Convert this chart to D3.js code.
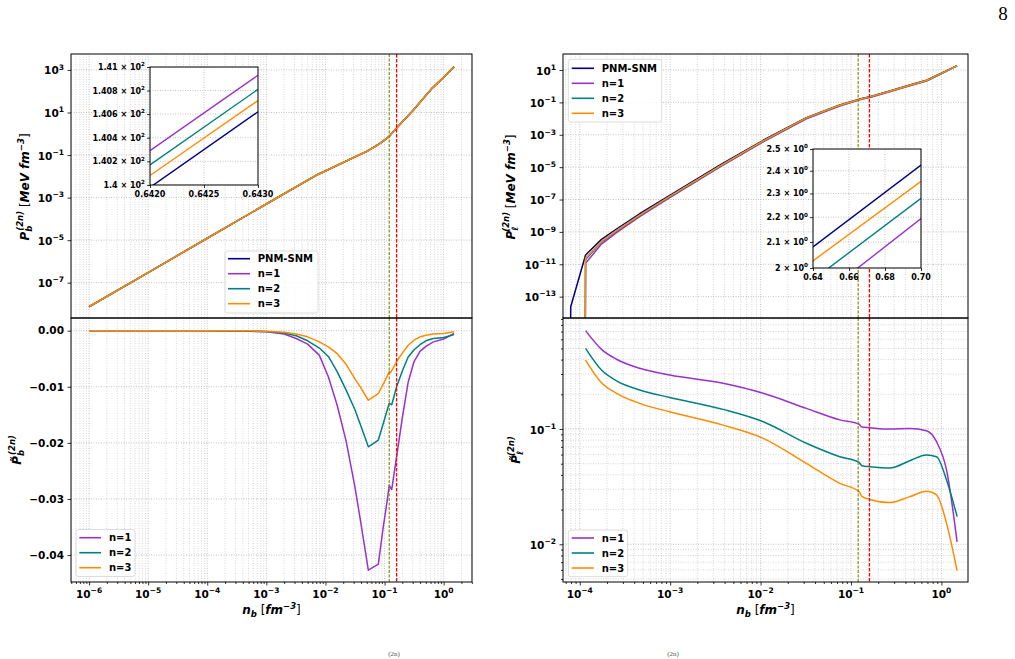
<!DOCTYPE html>
<html><head><meta charset="utf-8">
<script src="https://cdn.jsdelivr.net/npm/d3@7/dist/d3.min.js"></script>
<style>body{margin:0;background:#fff}svg{display:block}text{font-family:"DejaVu Sans",sans-serif}</style>
</head><body><svg id="c" width="1015" height="659"></svg>
<script>
// ---------------- DATA ----------------
const seriesNames = ['PNM-SNM','n=1','n=2','n=3'];
const vlineVals = [0.12, 0.16];            // olive (crust-core), red (saturation)

// top-left: P_b^(2n)
const nbB   = [1e-6,1e-5,1e-4,1e-3,7.1e-3,0.01,0.03,0.05,0.08,0.12,0.16,0.3,0.5,0.6425,1.0,1.5];
const pbPNM = [7.4e-9,3.0e-7,1.23e-5,5.0e-4,1.15e-2,1.78e-2,7.6e-2,0.145,0.316,0.741,1.86,12.0,63,140.3,447,1430];
const pbN1  = [7.4e-9,3.0e-7,1.23e-5,5.0e-4,1.16e-2,1.80e-2,7.8e-2,0.150,0.327,0.760,1.89,12.1,63.1,140.6,448,1431];
const pbN2  = [7.4e-9,3.0e-7,1.23e-5,5.0e-4,1.155e-2,1.79e-2,7.7e-2,0.148,0.322,0.750,1.88,12.05,63.05,140.5,447.5,1431];
const pbN3  = [7.4e-9,3.0e-7,1.23e-5,5.0e-4,1.152e-2,1.785e-2,7.65e-2,0.147,0.320,0.747,1.87,12.02,63.02,140.4,447.3,1430];

// bottom-left: relative P_b
const nbD  = [1e-6,1e-5,1e-4,5e-4,1e-3,2e-3,3.2e-3,5e-3,7.9e-3,0.0112,0.0158,0.0224,0.0316,0.0398,0.0532,0.0785,0.0955,0.112,0.1205,0.126,0.1324,0.16,0.2,0.251,0.316,0.398,0.501,0.67,1.0,1.5];
const dbN1 = [0,0,0,-0.0001,-0.0002,-0.0006,-0.0014,-0.0024,-0.0044,-0.0082,-0.0133,-0.0197,-0.0279,-0.0343,-0.0427,-0.0416,-0.0349,-0.0300,-0.0275,-0.0280,-0.0283,-0.0225,-0.0155,-0.0092,-0.0055,-0.0037,-0.0028,-0.0020,-0.0015,-0.0005];
const dbN2 = [0,0,0,-0.00005,-0.00015,-0.0004,-0.0009,-0.0018,-0.0031,-0.0046,-0.0073,-0.0106,-0.0141,-0.0170,-0.0207,-0.0195,-0.0165,-0.0140,-0.0129,-0.0131,-0.0132,-0.0100,-0.0072,-0.0047,-0.0034,-0.0025,-0.0018,-0.0014,-0.0012,-0.0007];
const dbN3 = [0,0,0,-0.00003,-0.0001,-0.0003,-0.0006,-0.0011,-0.0020,-0.0029,-0.0041,-0.0060,-0.0086,-0.0102,-0.0124,-0.0112,-0.0095,-0.0080,-0.0073,-0.0075,-0.0071,-0.0055,-0.0040,-0.0026,-0.0017,-0.0011,-0.0008,-0.0006,-0.0005,-0.0002];

// top-right: P_l^(2n)
const nbLP  = [7.9e-5,7.95e-5,1.16e-4,1.74e-4,2.55e-4,4.6e-4,9.9e-4,3.85e-3,0.0107,0.0321,0.0752,0.123,0.132,0.162,0.268,0.447,0.683,0.883,1.14,1.49];
const plPNM = [1e-16,2.4e-14,3.7e-11,3.47e-10,1.51e-9,1.32e-8,1.82e-7,1.74e-5,4.57e-4,1.15e-2,6.84e-2,0.155,0.174,0.224,0.501,1.175,2.33,4.57,9.12,18.6];
const nbLn  = [1.15e-4,1.16e-4,1.74e-4,2.55e-4,4.6e-4,9.9e-4,3.85e-3,0.0107,0.0321,0.0752,0.123,0.132,0.162,0.268,0.447,0.683,0.883,1.14,1.49];
const plN1  = [1e-16,1.15e-11,1.78e-10,9.1e-10,8.7e-9,1.29e-7,1.32e-5,3.63e-4,9.8e-3,6.03e-2,0.138,0.155,0.200,0.447,1.05,2.09,4.17,8.71,18.6];
const plN2  = [1e-16,2.0e-11,2.34e-10,1.12e-9,1.02e-8,1.48e-7,1.48e-5,4.07e-4,1.07e-2,6.46e-2,0.148,0.166,0.214,0.479,1.12,2.19,4.27,8.71,18.2];
const plN3  = [1e-16,2.4e-11,2.57e-10,1.2e-9,1.1e-8,1.55e-7,1.55e-5,4.17e-4,1.1e-2,6.6e-2,0.151,0.170,0.219,0.490,1.15,2.24,4.47,8.91,18.6];

// bottom-right: relative P_l
const nbR  = [1.16e-4,1.74e-4,2.55e-4,4.6e-4,9.9e-4,3.85e-3,0.0107,0.0321,0.0752,0.123,0.132,0.162,0.268,0.447,0.683,0.883,1.14,1.49];
const dlN1 = [0.713,0.491,0.403,0.336,0.294,0.249,0.204,0.151,0.120,0.110,0.104,0.1026,0.100,0.101,0.0966,0.0776,0.044,0.0105];
const dlN2 = [0.501,0.325,0.262,0.218,0.188,0.148,0.1157,0.0752,0.0575,0.0514,0.048,0.0471,0.0459,0.0531,0.0595,0.0575,0.0361,0.0174];
const dlN3 = [0.396,0.252,0.204,0.167,0.141,0.108,0.083,0.0503,0.0338,0.0286,0.026,0.0245,0.0230,0.0259,0.0288,0.0268,0.0152,0.0059];

// insets
const inLx = [0.642,0.643];
const inLnavy = [139.98,140.62], inLn1 = [140.29,140.93], inLn2 = [140.17,140.81], inLn3 = [140.08,140.715];
const inLxTicks = [0.642,0.6425,0.643], inLxLabels = ['0.6420','0.6425','0.6430'];
const inLyTicks = [140,140.2,140.4,140.6,140.8,141], inLyMant = ['1.4','1.402','1.404','1.406','1.408','1.41'], inLyExp = '2';
const inRx = [0.64,0.70];
const inRnavy = [2.081,2.426], inRn1 = [1.873,2.194], inRn2 = [1.956,2.279], inRn3 = [2.027,2.353];
const inRxTicks = [0.64,0.66,0.68,0.70], inRxLabels = ['0.64','0.66','0.68','0.70'];
const inRyTicks = [2,2.1,2.2,2.3,2.4,2.5], inRyMant = ['2','2.1','2.2','2.3','2.4','2.5'], inRyExp = '0';

// tick values
const decL = [-6,-5,-4,-3,-2,-1,0], decR = [-4,-3,-2,-1,0];
const ytlExp = [3,1,-1,-3,-5,-7];
const ytrExp = [1,-1,-3,-5,-7,-9,-11,-13];
const yblTicks = [0,-0.01,-0.02,-0.03,-0.04], yblLabels = ['0.00','\u22120.01','\u22120.02','\u22120.03','\u22120.04'];
const ybrExp = [-1,-2];

// ---------------- LAYOUT ----------------
const C = {navy:'#000080', n1:'#9932CC', n2:'#008080', n3:'#FF8C00'};
const svg = d3.select('#c');
const L = {x0:71, x1:472}, R = {x0:563, x1:968};
const yT0 = 54, yM = 318, yB1 = 582;

const xL  = d3.scaleLog().domain([4.95e-7, 3.02]).range([L.x0, L.x1]);
const xR  = d3.scaleLog().domain([6.53e-5, 1.968]).range([R.x0, R.x1]);
const yTL = d3.scaleLog().domain([2.19e-9, 5623]).range([yM, yT0]);
const yBL = d3.scaleLinear().domain([-0.0448, 0.00226]).range([yB1, yM]);
const yTR = d3.scaleLog().domain([4.8e-15, 97.7]).range([yM, yT0]);
const yBR = d3.scaleLog().domain([4.71e-3, 0.918]).range([yB1, yM]);

function minorVals(dom, d0, d1) {
  const out = [];
  for (let d = d0; d <= d1; d++) for (let k = 2; k <= 9; k++) {
    const v = k * Math.pow(10, d);
    if (v >= dom[0] && v <= dom[1]) out.push(v);
  }
  return out;
}
const p10 = e => Math.pow(10, e);

let clipN = 0;
function clip(x0, y0, x1, y1) {
  const id = 'cl' + (clipN++);
  svg.append('clipPath').attr('id', id).append('rect')
    .attr('x', x0).attr('y', y0).attr('width', x1 - x0).attr('height', y1 - y0);
  return `url(#${id})`;
}
function gridLine(g, x1, y1, x2, y2, major) {
  g.append('line').attr('x1', x1).attr('y1', y1).attr('x2', x2).attr('y2', y2)
    .attr('stroke', major ? '#b4b4b4' : '#cdcdcd').attr('stroke-width', 0.8)
    .attr('stroke-dasharray', '1,1.5');
}
function panel(x, y, x0, x1, y0, y1, gx, gxm, gy, gym) {
  const cp = clip(x0, y0, x1, y1);
  const g = svg.append('g').attr('clip-path', cp);
  gxm.forEach(v => gridLine(g, x(v), y0, x(v), y1, false));
  gym.forEach(v => gridLine(g, x0, y(v), x1, y(v), false));
  gx.forEach(v => gridLine(g, x(v), y0, x(v), y1, true));
  gy.forEach(v => gridLine(g, x0, y(v), x1, y(v), true));
  return svg.append('g').attr('clip-path', cp);
}
function series(g, xs, ys, x, y, color, curve, w) {
  g.append('path').datum(d3.zip(xs, ys))
    .attr('d', d3.line().x(d => x(d[0])).y(d => y(d[1])).curve(curve || d3.curveLinear))
    .attr('fill', 'none').attr('stroke', color).attr('stroke-width', w || 1.5)
    .attr('stroke-linejoin', 'round');
}
function vlines(g, x, y0, y1) {
  const xa = x(vlineVals[0]), xb = x(vlineVals[1]);
  g.append('line').attr('x1', xa).attr('x2', xa).attr('y1', y0).attr('y2', y1)
    .attr('stroke', '#808000').attr('stroke-width', 1.1).attr('stroke-dasharray', '3,1.5');
  g.append('line').attr('x1', xb).attr('x2', xb).attr('y1', y0).attr('y2', y1)
    .attr('stroke', '#ff0000').attr('stroke-width', 1.3).attr('stroke-dasharray', '3.5,1.5');
}
function tickAxis(fn, scale, vals, size, tr) {
  svg.append('g').attr('transform', tr)
    .call(fn(scale).tickValues(vals).tickSize(size).tickFormat(''))
    .call(g => { g.select('.domain').remove(); g.selectAll('line').attr('stroke', '#000').attr('stroke-width', 0.8); });
}
function powLabel(x, y, anchor, exp, size) {
  const t = svg.append('text').attr('x', x).attr('y', y).attr('text-anchor', anchor)
    .attr('font-size', size).attr('font-weight', 'bold').attr('fill', '#000');
  t.append('tspan').text('10');
  t.append('tspan').attr('dy', -size * 0.45).attr('font-size', size * 0.72)
    .text(exp < 0 ? '\u2212' + (-exp) : String(exp));
}
function richText(tr, anchor, size, parts) {
  const t = svg.append('text').attr('transform', tr).attr('text-anchor', anchor)
    .attr('font-size', size).attr('font-weight', 'bold').attr('fill', '#000');
  parts.forEach(p => {
    const s = t.append('tspan').text(p.t);
    if (p.i) s.attr('font-style', 'italic');
    if (p.fs) s.attr('font-size', p.fs);
    if (p.dy) s.attr('dy', p.dy);
    if (p.dx) s.attr('dx', p.dx);
    if (p.w) s.attr('font-weight', p.w);
  });
}
function legend(bx, by, bw, bh, rows, lx0, lx1, tx, ry0) {
  svg.append('rect').attr('x', bx).attr('y', by).attr('width', bw).attr('height', bh).attr('rx', 2.5)
    .attr('fill', '#fff').attr('fill-opacity', 0.85).attr('stroke', '#d3d3d3').attr('stroke-width', 0.8);
  rows.forEach((r, i) => {
    const yy = ry0 + i * 15;
    svg.append('line').attr('x1', lx0).attr('x2', lx1).attr('y1', yy).attr('y2', yy)
      .attr('stroke', r.c).attr('stroke-width', 1.6);
    svg.append('text').attr('x', tx).attr('y', yy + 3.7).attr('font-size', 10).attr('font-weight', 'bold').text(r.n);
  });
}
function frame(x0, y0, x1, y1) {
  svg.append('rect').attr('x', x0).attr('y', y0).attr('width', x1 - x0).attr('height', y1 - y0)
    .attr('fill', 'none').attr('stroke', '#000').attr('stroke-width', 1);
}
function inset(box, x, y, xt, xtl, yt, ytm, yexp, xs, ys) {
  svg.append('rect').attr('x', box.x0).attr('y', box.y0).attr('width', box.x1 - box.x0)
    .attr('height', box.y1 - box.y0).attr('fill', '#fff');
  const cp = clip(box.x0, box.y0, box.x1, box.y1);
  const g = svg.append('g').attr('clip-path', cp);
  xt.forEach(v => gridLine(g, x(v), box.y0, x(v), box.y1, true));
  yt.forEach(v => gridLine(g, box.x0, y(v), box.x1, y(v), true));
  const cols = [C.navy, C.n1, C.n2, C.n3];
  ys.forEach((s, i) => series(g, xs, s, x, y, cols[i], null, 1.4));
  frame(box.x0, box.y0, box.x1, box.y1);
  tickAxis(d3.axisBottom, x, xt, 3, `translate(0,${box.y1})`);
  tickAxis(d3.axisLeft, y, yt, 3, `translate(${box.x0},0)`);
  xt.forEach((v, i) => svg.append('text').attr('x', x(v)).attr('y', box.y1 + 12).attr('text-anchor', 'middle')
    .attr('font-size', 8).attr('font-weight', 'bold').text(xtl[i]));
  yt.forEach((v, i) => {
    const t = svg.append('text').attr('x', box.x0 - 5).attr('y', y(v) + 3).attr('text-anchor', 'end')
      .attr('font-size', 8).attr('font-weight', 'bold');
    t.append('tspan').text(ytm[i] + ' \u00d7 10');
    t.append('tspan').attr('dy', -3.6).attr('font-size', 5.6).text(yexp);
  });
}

// ---------------- PANELS ----------------
const gxL = decL.map(p10), gxLm = minorVals(xL.domain(), -7, 0);
const gxR = decR.map(p10), gxRm = minorVals(xR.domain(), -5, 0);

// top-left
const pTL = panel(xL, yTL, L.x0, L.x1, yT0, yM, gxL, gxLm, ytlExp.map(p10), []);
series(pTL, nbB, pbPNM, xL, yTL, C.navy);
series(pTL, nbB, pbN1, xL, yTL, C.n1);
series(pTL, nbB, pbN2, xL, yTL, C.n2);
series(pTL, nbB, pbN3, xL, yTL, C.n3);
vlines(pTL, xL, yT0, yM);

// bottom-left
const pBL = panel(xL, yBL, L.x0, L.x1, yM, yB1, gxL, gxLm, yblTicks, []);
series(pBL, nbD, dbN1, xL, yBL, C.n1);
series(pBL, nbD, dbN2, xL, yBL, C.n2);
series(pBL, nbD, dbN3, xL, yBL, C.n3);
vlines(pBL, xL, yM, yB1);

// top-right
const pTR = panel(xR, yTR, R.x0, R.x1, yT0, yM, gxR, gxRm, ytrExp.map(p10), []);
series(pTR, nbLP, plPNM, xR, yTR, C.navy);
series(pTR, nbLn, plN1, xR, yTR, C.n1);
series(pTR, nbLn, plN2, xR, yTR, C.n2);
series(pTR, nbLn, plN3, xR, yTR, C.n3);
vlines(pTR, xR, yT0, yM);

// bottom-right
const pBR = panel(xR, yBR, R.x0, R.x1, yM, yB1, gxR, gxRm, ybrExp.map(p10), minorVals(yBR.domain(), -3, -1));
series(pBR, nbR, dlN1, xR, yBR, C.n1, d3.curveMonotoneX);
series(pBR, nbR, dlN2, xR, yBR, C.n2, d3.curveMonotoneX);
series(pBR, nbR, dlN3, xR, yBR, C.n3, d3.curveMonotoneX);
vlines(pBR, xR, yM, yB1);

// frames
frame(L.x0, yT0, L.x1, yM); frame(L.x0, yM, L.x1, yB1);
frame(R.x0, yT0, R.x1, yM); frame(R.x0, yM, R.x1, yB1);

// x ticks (bottom panels)
tickAxis(d3.axisBottom, xL, gxL, 3.5, `translate(0,${yB1})`);
tickAxis(d3.axisBottom, xL, gxLm, 2, `translate(0,${yB1})`);
tickAxis(d3.axisBottom, xR, gxR, 3.5, `translate(0,${yB1})`);
tickAxis(d3.axisBottom, xR, gxRm, 2, `translate(0,${yB1})`);
decL.forEach(e => powLabel(xL(p10(e)), yB1 + 15.5, 'middle', e, 10.5));
decR.forEach(e => powLabel(xR(p10(e)), yB1 + 15.5, 'middle', e, 10.5));

// y ticks
tickAxis(d3.axisLeft, yTL, ytlExp.map(p10), 3.5, `translate(${L.x0},0)`);
ytlExp.forEach(e => powLabel(L.x0 - 7, yTL(p10(e)) + 4.5, 'end', e, 10.5));
tickAxis(d3.axisLeft, yBL, yblTicks, 3.5, `translate(${L.x0},0)`);
yblTicks.forEach((v, i) => svg.append('text').attr('x', L.x0 - 7).attr('y', yBL(v) + 3.8)
  .attr('text-anchor', 'end').attr('font-size', 10.5).attr('font-weight', 'bold').text(yblLabels[i]));
tickAxis(d3.axisLeft, yTR, ytrExp.map(p10), 3.5, `translate(${R.x0},0)`);
ytrExp.forEach(e => powLabel(R.x0 - 7, yTR(p10(e)) + 4.5, 'end', e, 10.5));
tickAxis(d3.axisLeft, yBR, ybrExp.map(p10), 3.5, `translate(${R.x0},0)`);
tickAxis(d3.axisLeft, yBR, minorVals(yBR.domain(), -3, -1), 2, `translate(${R.x0},0)`);
ybrExp.forEach(e => powLabel(R.x0 - 7, yBR(p10(e)) + 4.5, 'end', e, 10.5));

// axis titles
const xTitle = [{t:'n', i:1}, {t:'b', i:1, fs:8.5, dy:3}, {t:' [', w:'normal', dy:-3}, {t:'fm', i:1}, {t:'\u22123', fs:8.5, dy:-5, i:1}, {t:']', w:'normal', dy:5}];
richText(`translate(${(L.x0 + L.x1) / 2},614)`, 'middle', 12, xTitle);
richText(`translate(${(R.x0 + R.x1) / 2},614)`, 'middle', 12, xTitle);
const yTitle = sub => [{t:'P', i:1}, {t:sub, i:1, fs:8.5, dy:3}, {t:'(2n)', i:1, fs:8.5, dx:-5, dy:-9},
  {t:' [', w:'normal', dy:6}, {t:'MeV fm', i:1}, {t:'\u22123', fs:8.5, dy:-5, i:1}, {t:']', w:'normal', dy:5}];
richText(`translate(29,187) rotate(-90)`, 'middle', 12, yTitle('b'));
richText(`translate(515,187) rotate(-90)`, 'middle', 12, yTitle('\u2113'));
const yTitle2 = sub => [{t:'P\u0303', i:1}, {t:sub, i:1, fs:8.5, dy:3}, {t:'(2n)', i:1, fs:8.5, dx:-5, dy:-9}];
richText(`translate(21,450) rotate(-90)`, 'middle', 12, yTitle2('b'));
richText(`translate(520,450) rotate(-90)`, 'middle', 12, yTitle2('\u2113'));

// legends
const rows4 = [{n:seriesNames[0], c:C.navy}, {n:seriesNames[1], c:C.n1}, {n:seriesNames[2], c:C.n2}, {n:seriesNames[3], c:C.n3}];
const rows3 = rows4.slice(1);
legend(225, 251, 93, 62, rows4, 228, 250, 257.7, 258.7);
legend(76, 529.5, 59, 47, rows3, 79.3, 101, 109, 537.7);
legend(568.3, 59.3, 93.4, 62.7, rows4, 571.7, 594, 601.7, 68.3);
legend(568.3, 530, 59.4, 46.7, rows3, 571.7, 594, 601.7, 538);

// insets
const bL = {x0:150, x1:258, y0:67, y1:185};
inset(bL, d3.scaleLinear().domain([0.642, 0.643]).range([bL.x0, bL.x1]),
  d3.scaleLog().domain([140, 141]).range([bL.y1, bL.y0]),
  inLxTicks, inLxLabels, inLyTicks, inLyMant, inLyExp, inLx, [inLnavy, inLn1, inLn2, inLn3]);
const bR = {x0:813, x1:921, y0:149, y1:268};
inset(bR, d3.scaleLinear().domain([0.64, 0.70]).range([bR.x0, bR.x1]),
  d3.scaleLog().domain([2.0, 2.5]).range([bR.y1, bR.y0]),
  inRxTicks, inRxLabels, inRyTicks, inRyMant, inRyExp, inRx, [inRnavy, inRn1, inRn2, inRn3]);

// page number and caption fragments
svg.append('text').attr('x', 1003).attr('y', 20).attr('text-anchor', 'middle')
  .style('font-family', '"Liberation Serif", serif').attr('font-size', 19).text('8');
[394, 673].forEach(x => svg.append('text').attr('x', x).attr('y', 656).attr('text-anchor', 'middle')
  .style('font-family', '"Liberation Serif", serif').attr('font-size', 7).attr('fill', '#555').text('(2n)'));
</script></body></html>
